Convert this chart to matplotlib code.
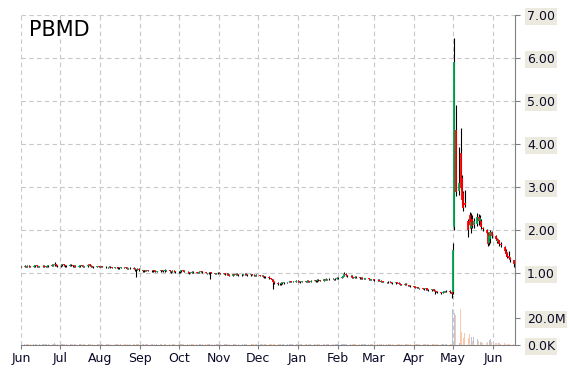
import numpy as np
import pandas as pd
import matplotlib
matplotlib.use('Agg')
import matplotlib.pyplot as plt
import matplotlib.dates as mdates

ticker = 'PBMD'

# trading days, Jun 2018 - Jun 2019 (weekdays)
days = pd.bdate_range('2018-06-01', '2019-06-17')

# daily prices, one line per month
opens = [
    1.14, 1.15, 1.17, 1.14, 1.17, 1.16, 1.15, 1.16, 1.18, 1.16, 1.15, 1.16, 1.17, 1.16, 1.14, 1.16, 1.19, 1.17, 1.18, 1.21, 1.18,
    1.17, 1.18, 1.20, 1.18, 1.16, 1.17, 1.19, 1.18, 1.16, 1.17, 1.15, 1.16, 1.18, 1.17, 1.15, 1.16, 1.20, 1.17, 1.16, 1.15, 1.14, 1.16,
    1.15, 1.14, 1.16, 1.15, 1.13, 1.14, 1.15, 1.13, 1.12, 1.14, 1.13, 1.11, 1.12, 1.14, 1.13, 1.12, 1.10, 1.11, 1.12, 1.10, 1.09, 1.08, 1.10,
    1.07, 1.04, 1.06, 1.05, 1.07, 1.05, 1.04, 1.06, 1.05, 1.03, 1.04, 1.06, 1.05, 1.04, 1.07, 1.06, 1.04, 1.03, 1.05, 1.04,
    1.03, 1.02, 1.04, 1.06, 1.05, 1.03, 1.02, 1.00, 1.01, 1.03, 1.02, 1.00, 1.01, 1.03, 1.04, 1.02, 1.00, 0.99, 1.01, 1.02, 1.00, 0.98, 0.99,
    1.01, 1.00, 0.98, 0.99, 0.97, 0.98, 0.96, 0.94, 0.97, 0.96, 0.98, 0.97, 0.95, 0.96, 0.97, 0.98, 0.96, 0.95, 0.97, 0.96, 0.95, 0.94,
    0.95, 0.93, 0.94, 0.92, 0.90, 0.91, 0.88, 0.86, 0.84, 0.80, 0.76, 0.75, 0.74, 0.77, 0.76, 0.78, 0.79, 0.80, 0.81, 0.79, 0.80,
    0.82, 0.81, 0.80, 0.79, 0.81, 0.80, 0.82, 0.81, 0.80, 0.82, 0.83, 0.81, 0.84, 0.83, 0.82, 0.85, 0.84, 0.86, 0.85, 0.87, 0.86, 0.85, 0.87,
    0.88, 0.89, 0.91, 0.93, 0.98, 0.95, 0.92, 0.94, 0.90, 0.89, 0.91, 0.90, 0.88, 0.89, 0.87, 0.86, 0.88, 0.85, 0.84, 0.86,
    0.85, 0.83, 0.84, 0.82, 0.80, 0.81, 0.79, 0.78, 0.80, 0.79, 0.77, 0.76, 0.78, 0.77, 0.75, 0.74, 0.73, 0.75, 0.72, 0.71, 0.70,
    0.69, 0.68, 0.66, 0.67, 0.65, 0.64, 0.63, 0.62, 0.64, 0.61, 0.60, 0.62, 0.59, 0.57, 0.56, 0.55, 0.54, 0.56, 0.58, 0.57, 0.59, 0.55,
    0.55, 2.07, 4.33, 2.90, 3.79, 3.20, 2.85, 2.62, 2.22, 2.35, 2.05, 2.25, 2.12, 2.15, 2.30, 2.20, 2.22, 2.05, 2.00, 1.92, 1.70, 1.80, 1.95,
    1.85, 1.80, 1.72, 1.76, 1.68, 1.60, 1.52, 1.47, 1.40, 1.36, 1.30,
]
highs = [
    1.17, 1.18, 1.17, 1.18, 1.18, 1.17, 1.18, 1.19, 1.19, 1.17, 1.17, 1.18, 1.18, 1.17, 1.17, 1.19, 1.20, 1.21, 1.26, 1.22, 1.19,
    1.19, 1.22, 1.21, 1.19, 1.18, 1.20, 1.20, 1.19, 1.18, 1.18, 1.17, 1.19, 1.19, 1.18, 1.17, 1.21, 1.21, 1.18, 1.17, 1.16, 1.17, 1.17,
    1.16, 1.17, 1.17, 1.16, 1.15, 1.16, 1.16, 1.14, 1.15, 1.15, 1.14, 1.13, 1.15, 1.15, 1.14, 1.13, 1.12, 1.13, 1.13, 1.11, 1.10, 1.11, 1.11,
    1.08, 1.07, 1.07, 1.08, 1.08, 1.06, 1.07, 1.07, 1.06, 1.05, 1.07, 1.07, 1.06, 1.09, 1.08, 1.07, 1.05, 1.06, 1.06, 1.05,
    1.04, 1.05, 1.08, 1.07, 1.06, 1.04, 1.03, 1.02, 1.04, 1.04, 1.03, 1.02, 1.04, 1.05, 1.05, 1.03, 1.01, 1.02, 1.03, 1.03, 1.01, 1.00, 1.02,
    1.02, 1.01, 1.00, 1.00, 0.99, 0.99, 0.97, 0.98, 0.98, 0.99, 0.99, 0.98, 0.97, 0.98, 0.99, 0.99, 0.97, 0.98, 0.98, 0.97, 0.96, 0.97,
    0.96, 0.95, 0.95, 0.93, 0.92, 0.92, 0.89, 0.87, 0.85, 0.81, 0.78, 0.76, 0.78, 0.78, 0.79, 0.80, 0.81, 0.82, 0.82, 0.81, 0.83,
    0.83, 0.82, 0.81, 0.82, 0.82, 0.83, 0.83, 0.82, 0.83, 0.84, 0.84, 0.86, 0.85, 0.84, 0.87, 0.86, 0.88, 0.87, 0.89, 0.88, 0.87, 0.88, 0.90,
    0.90, 0.92, 0.94, 1.02, 0.99, 0.96, 0.95, 0.95, 0.91, 0.92, 0.92, 0.91, 0.90, 0.90, 0.88, 0.89, 0.89, 0.86, 0.87, 0.87,
    0.86, 0.85, 0.85, 0.83, 0.82, 0.82, 0.80, 0.81, 0.81, 0.80, 0.78, 0.79, 0.79, 0.78, 0.76, 0.75, 0.76, 0.76, 0.73, 0.72, 0.71,
    0.70, 0.69, 0.68, 0.68, 0.66, 0.65, 0.64, 0.65, 0.65, 0.62, 0.63, 0.63, 0.60, 0.58, 0.57, 0.56, 0.57, 0.59, 0.59, 0.61, 0.60, 0.56,
    1.70, 6.47, 4.90, 3.93, 4.37, 3.28, 2.90, 2.93, 2.25, 2.42, 2.40, 2.35, 2.28, 2.40, 2.38, 2.35, 2.25, 2.08, 2.02, 1.95, 1.93, 2.00, 1.98,
    1.88, 1.81, 1.79, 1.77, 1.72, 1.62, 1.55, 1.49, 1.52, 1.38, 1.31,
]
lows = [
    1.13, 1.14, 1.13, 1.13, 1.15, 1.14, 1.14, 1.15, 1.15, 1.14, 1.14, 1.15, 1.14, 1.13, 1.13, 1.15, 1.16, 1.16, 1.17, 1.16, 1.15,
    1.15, 1.16, 1.17, 1.15, 1.15, 1.16, 1.17, 1.15, 1.15, 1.14, 1.14, 1.15, 1.16, 1.14, 1.14, 1.15, 1.16, 1.15, 1.13, 1.12, 1.13, 1.14,
    1.13, 1.13, 1.14, 1.12, 1.12, 1.13, 1.12, 1.11, 1.11, 1.12, 1.10, 1.10, 1.11, 1.12, 1.11, 1.09, 1.09, 1.10, 1.09, 1.04, 0.90, 1.06, 1.05,
    1.02, 1.03, 1.04, 1.04, 1.04, 1.02, 1.03, 1.04, 1.02, 1.02, 1.03, 1.04, 1.03, 1.03, 1.05, 1.03, 1.01, 1.02, 1.03, 1.01,
    1.01, 1.01, 1.03, 1.04, 1.02, 1.01, 0.98, 0.99, 1.00, 1.01, 0.99, 0.99, 1.00, 1.02, 1.01, 0.99, 0.97, 0.98, 0.86, 0.99, 0.97, 0.97, 0.98,
    0.99, 0.97, 0.97, 0.96, 0.96, 0.95, 0.93, 0.93, 0.95, 0.95, 0.96, 0.94, 0.94, 0.95, 0.96, 0.95, 0.94, 0.94, 0.95, 0.94, 0.93, 0.93,
    0.92, 0.92, 0.91, 0.89, 0.89, 0.87, 0.85, 0.83, 0.63, 0.74, 0.73, 0.72, 0.73, 0.75, 0.75, 0.77, 0.78, 0.79, 0.78, 0.78, 0.79,
    0.80, 0.79, 0.77, 0.78, 0.79, 0.79, 0.80, 0.79, 0.79, 0.81, 0.80, 0.80, 0.82, 0.81, 0.81, 0.83, 0.83, 0.84, 0.84, 0.85, 0.84, 0.84, 0.86,
    0.87, 0.88, 0.90, 0.92, 0.94, 0.91, 0.91, 0.89, 0.88, 0.88, 0.89, 0.87, 0.87, 0.86, 0.85, 0.85, 0.84, 0.83, 0.83, 0.84,
    0.82, 0.82, 0.81, 0.79, 0.79, 0.78, 0.77, 0.77, 0.78, 0.76, 0.75, 0.75, 0.76, 0.74, 0.73, 0.72, 0.72, 0.71, 0.70, 0.69, 0.68,
    0.67, 0.65, 0.65, 0.64, 0.63, 0.62, 0.61, 0.61, 0.60, 0.59, 0.59, 0.58, 0.52, 0.55, 0.53, 0.52, 0.53, 0.55, 0.56, 0.56, 0.54, 0.42,
    0.50, 2.00, 2.80, 2.82, 2.93, 2.58, 2.45, 2.53, 1.84, 2.05, 1.93, 2.05, 2.05, 2.10, 2.12, 2.15, 2.03, 1.98, 1.90, 1.62, 1.65, 1.70, 1.82,
    1.76, 1.70, 1.70, 1.62, 1.60, 1.47, 1.40, 1.35, 1.33, 1.26, 1.14,
]
closes = [
    1.15, 1.16, 1.14, 1.17, 1.16, 1.15, 1.17, 1.18, 1.16, 1.15, 1.16, 1.17, 1.15, 1.14, 1.16, 1.18, 1.17, 1.19, 1.22, 1.18, 1.17,
    1.17, 1.20, 1.18, 1.16, 1.17, 1.19, 1.18, 1.16, 1.17, 1.15, 1.16, 1.18, 1.17, 1.15, 1.16, 1.19, 1.17, 1.16, 1.15, 1.14, 1.16, 1.15,
    1.14, 1.16, 1.15, 1.13, 1.14, 1.15, 1.13, 1.12, 1.14, 1.13, 1.11, 1.12, 1.14, 1.13, 1.12, 1.10, 1.11, 1.12, 1.10, 1.09, 1.08, 1.10, 1.07,
    1.04, 1.06, 1.05, 1.07, 1.05, 1.04, 1.06, 1.05, 1.03, 1.04, 1.06, 1.05, 1.04, 1.07, 1.06, 1.04, 1.03, 1.05, 1.04, 1.03,
    1.02, 1.04, 1.06, 1.05, 1.03, 1.02, 1.00, 1.01, 1.03, 1.02, 1.00, 1.01, 1.03, 1.04, 1.02, 1.00, 0.99, 1.01, 1.02, 1.00, 0.98, 0.99, 1.01,
    1.00, 0.98, 0.99, 0.97, 0.98, 0.96, 0.94, 0.97, 0.96, 0.98, 0.97, 0.95, 0.96, 0.97, 0.98, 0.96, 0.95, 0.97, 0.96, 0.95, 0.94, 0.96,
    0.93, 0.94, 0.92, 0.90, 0.91, 0.88, 0.86, 0.84, 0.80, 0.76, 0.75, 0.74, 0.77, 0.76, 0.78, 0.79, 0.80, 0.81, 0.79, 0.80, 0.82,
    0.81, 0.80, 0.79, 0.81, 0.80, 0.82, 0.81, 0.80, 0.82, 0.83, 0.81, 0.84, 0.83, 0.82, 0.85, 0.84, 0.86, 0.85, 0.87, 0.86, 0.85, 0.87, 0.88,
    0.89, 0.91, 0.93, 0.98, 0.95, 0.92, 0.94, 0.90, 0.89, 0.91, 0.90, 0.88, 0.89, 0.87, 0.86, 0.88, 0.85, 0.84, 0.86, 0.85,
    0.83, 0.84, 0.82, 0.80, 0.81, 0.79, 0.78, 0.80, 0.79, 0.77, 0.76, 0.78, 0.77, 0.75, 0.74, 0.73, 0.75, 0.72, 0.71, 0.70, 0.69,
    0.68, 0.66, 0.67, 0.65, 0.64, 0.63, 0.62, 0.64, 0.61, 0.60, 0.62, 0.59, 0.57, 0.56, 0.55, 0.54, 0.56, 0.58, 0.57, 0.59, 0.55, 0.52,
    1.53, 5.90, 2.88, 3.10, 2.98, 2.70, 2.50, 2.58, 2.00, 2.12, 2.18, 2.10, 2.20, 2.30, 2.22, 2.28, 2.06, 2.02, 1.93, 1.68, 1.85, 1.95, 1.86,
    1.80, 1.74, 1.76, 1.68, 1.64, 1.50, 1.45, 1.38, 1.36, 1.30, 1.20,
]
# volume in millions
volumes = [
    .45, .62, .38, .71, .52, .40, .58, .66, .49, .35, .44, .57, .61, .42, .50, .73, .64, .80, 1.20, .70, .55,
    .60, .95, .72, .48, .51, .66, .59, .43, .47, .55, .39, .62, .58, .44, .41, .68, .53, .46, .40, .37, .49, .45,
    .43, .58, .47, .39, .42, .51, .44, .36, .48, .41, .38, .35, .52, .46, .40, .43, .37, .45, .41, .48, .95, .60, .52,
    .55, .47, .40, .53, .44, .38, .49, .42, .36, .39, .50, .43, .37, .58, .46, .41, .35, .44, .40, .38,
    .42, .50, .65, .48, .39, .41, .46, .37, .44, .40, .43, .36, .47, .52, .41, .44, .49, .45, .80, .42, .51, .38, .43,
    .46, .41, .38, .44, .40, .47, .62, .50, .39, .43, .37, .45, .40, .36, .42, .39, .35, .44, .38, .41, .46, .40,
    .48, .44, .51, .55, .43, .60, .58, .66, .90, .74, .62, .57, .50, .48, .44, .41, .30, .46, .43, .39, .45,
    .42, .39, .47, .44, .40, .46, .38, .41, .45, .49, .43, .52, .47, .40, .55, .44, .50, .42, .53, .46, .41, .48, .51,
    .55, .60, .68, .95, .72, .58, .50, .54, .46, .43, .41, .45, .39, .42, .47, .40, .44, .48, .38, .41,
    .45, .40, .43, .50, .38, .42, .46, .39, .41, .47, .44, .37, .40, .48, .45, .42, .39, .51, .46, .43, .49,
    .47, .52, .41, .44, .49, .40, .43, .46, .51, .45, .42, .48, .60, .53, .47, .55, .44, .58, .46, .52, .50, .85,
    27.0, 23.5, 22.0, 1.5, 27.0, 9.5, 5.0, 8.8, 5.0, 8.0, 6.0, 3.0, 6.0, 4.4, 3.0, 2.5, 2.0, 1.8, 1.5, 2.2, 3.7, 4.4, 2.0,
    1.5, 1.3, 1.2, 1.3, 1.0, 1.2, 0.9, 1.0, 0.8, 0.9, 0.7,
]

assert len(days) == len(opens) == len(highs) == len(lows) == len(closes) == len(volumes), \
    (len(days), len(opens), len(highs), len(lows), len(closes), len(volumes))

o = np.array(opens)
h = np.array(highs)
l = np.array(lows)
c = np.array(closes)
v = np.array(volumes)
x = mdates.date2num(days.to_pydatetime())
up = c >= o

GREEN = '#00a651'
RED = '#ff0000'
GRID = '#c8c8c8'
AXIS = '#808080'
LABEL_BG = '#eceadf'

fig = plt.figure(figsize=(5.7, 3.7), dpi=100)
W, H = 570, 370
left, right = 21, 515
ax = fig.add_axes([left / W, (H - 300) / H, (right - left) / W, 285 / H])
axv = fig.add_axes([left / W, (H - 345) / H, (right - left) / W, 45 / H], sharex=ax)

# candles: black wick, coloured body
ax.vlines(x, l, h, color='black', lw=0.8, zorder=3)
ax.vlines(x, np.minimum(o, c), np.maximum(o, c), color=np.where(up, GREEN, RED), lw=1.3, zorder=4)

# volume bars
axv.bar(x, v, width=0.8, color=np.where(up, '#b7c5de', '#f7c8ac'), zorder=3)

x0 = mdates.date2num(pd.Timestamp('2018-06-01'))
x1 = mdates.date2num(pd.Timestamp('2019-06-18'))
ax.set_xlim(x0, x1)
ax.set_ylim(0.372, 7.0)
axv.set_ylim(0, 33.3)

lab_box = dict(boxstyle='square,pad=0.15', fc=LABEL_BG, ec='none')

# price axis on the right
ax.yaxis.tick_right()
ax.set_yticks([1, 2, 3, 4, 5, 6, 7])
ax.set_yticklabels(['%.2f' % t for t in [1, 2, 3, 4, 5, 6, 7]])
ax.tick_params(axis='y', direction='out', length=3.6, width=0.8, color=AXIS,
               labelsize=9, pad=5, labelcolor='#0a0a28')
for t in ax.get_yticklabels():
    t.set_bbox(lab_box)
ax.tick_params(axis='x', bottom=False, labelbottom=False)
ax.grid(True, axis='both', color=GRID, ls=(0, (4, 3)), lw=0.8)
ax.set_axisbelow(True)
for s in ['left', 'top', 'bottom']:
    ax.spines[s].set_visible(False)
ax.spines['right'].set_color(AXIS)

# volume axis
axv.yaxis.tick_right()
axv.set_yticks([0, 20])
axv.set_yticklabels(['0.0K', '20.0M'])
axv.tick_params(axis='y', direction='out', length=3.6, width=0.8, color=AXIS,
                labelsize=9, pad=5, labelcolor='#0a0a28')
for t in axv.get_yticklabels():
    t.set_bbox(lab_box)
axv.xaxis.set_major_locator(mdates.MonthLocator())
axv.xaxis.set_major_formatter(mdates.DateFormatter('%b'))
axv.tick_params(axis='x', direction='out', length=3, width=0.8, color=AXIS,
                labelsize=9, pad=2, labelcolor='#0a0a28')
axv.grid(True, axis='x', color=GRID, ls=(0, (4, 3)), lw=0.8)
axv.set_axisbelow(True)
for s in ['left', 'top']:
    axv.spines[s].set_visible(False)
axv.spines['right'].set_color(AXIS)
axv.spines['bottom'].set_color(AXIS)

fig.text(29 / W, 1 - 20 / H, ticker, fontsize=15, va='top', ha='left', color='black')

fig.savefig('out.png', dpi=100)
